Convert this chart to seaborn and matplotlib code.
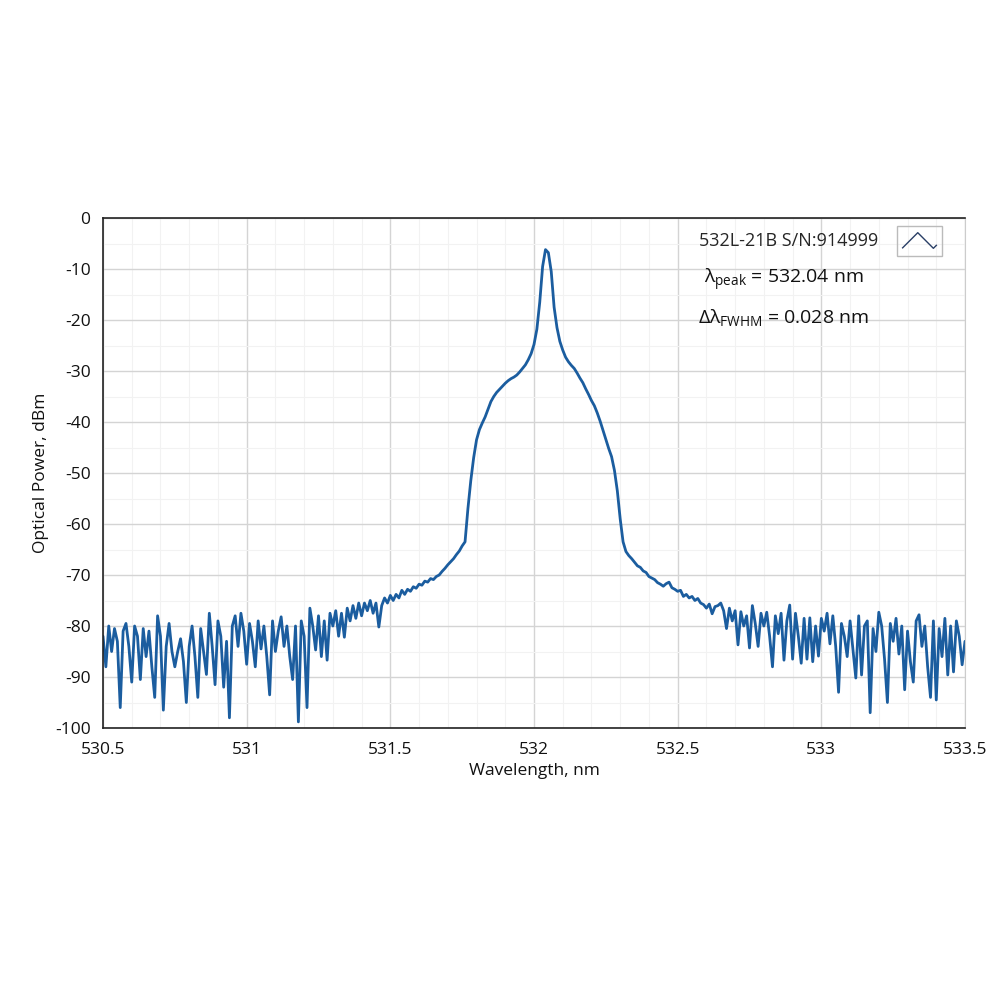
import numpy as np
import pandas as pd
import seaborn as sns
import matplotlib.pyplot as plt
from matplotlib.lines import Line2D
from matplotlib.path import Path
from matplotlib.patches import Rectangle
from matplotlib.ticker import AutoMinorLocator

# spectrum, 0.01 nm step, in three pieces
left_start = 530.50
left_power = [
    -82, -88, -80, -85, -80.5, -83, -96, -81, -79.5, -84,
    -91, -80, -82, -90.5, -80.5, -86, -81, -88, -94, -78,
    -82, -96.5, -84, -79.5, -85, -88, -85, -82.5, -87, -95,
    -84, -80, -86, -94, -80.5, -85, -89.5, -77.5, -84, -91.5,
    -79, -82, -92, -83, -98, -80, -78, -84, -77.5, -81,
    -87.5, -79.5, -83, -88, -79, -84.5, -80, -86, -93.5, -79,
    -85, -81, -78.2, -84, -80, -86, -90.5, -80, -98.8, -79,
    -82, -96, -76.5, -80, -84.7, -78, -86, -79, -86.7, -77.5,
    -80, -77, -82, -77.5, -82.2, -76.5, -79, -76, -78.5, -75.5,
    -78, -75.5, -77, -75, -77.5, -75.5, -80.2, -76, -74.5, -75.5,
    -74, -75, -73.8, -74.5, -73, -73.8, -72.8, -73.2, -72.3, -72.6,
    -71.8, -72, -71.2, -71.4, -70.7, -70.9, -70.3,
]

mid_start = 531.67
mid_power = [
    -70.0, -69.3, -68.7, -68.0, -67.4, -66.8, -66.0, -65.3, -64.3, -63.5,
    -57.0, -51.5, -47.0, -43.5, -41.5, -40.2, -39.0, -37.5, -36.0, -35.0,
    -34.2, -33.6, -33.0, -32.4, -31.9, -31.5, -31.2, -30.8, -30.2, -29.5,
    -28.8, -27.8, -26.6, -24.8, -21.8, -16.5, -9.5, -6.2, -6.8, -10.5,
    -17.5, -21.5, -24.2, -25.9, -27.3, -28.2, -28.9, -29.5, -30.4, -31.4,
    -32.3, -33.5, -34.6, -35.8, -36.8, -38.2, -39.8, -41.6, -43.4, -45.2,
    -46.8, -49.5, -53.5, -59.0, -63.5, -65.4, -66.2, -66.8, -67.5, -68.2,
    -68.5, -69.2, -69.5, -70.3, -70.6, -70.9, -71.5,
]

right_start = 532.44
right_power = [
    -71.8, -72.2, -71.7, -71.4, -72.5, -72.8, -73.2, -73, -74.2, -73.8,
    -74.5, -74.2, -75, -74.6, -75.5, -75.8, -76.5, -75.7, -77.6, -76.2,
    -76, -75.5, -77, -80.5, -76.5, -79, -77, -83.7, -77.2, -80,
    -78, -84.3, -76, -79.5, -84, -77.5, -80, -77.3, -82, -88,
    -78, -81.5, -77.5, -86.7, -79, -75.9, -86.5, -77.5, -82, -87.3,
    -78.5, -86.5, -78.4, -87, -80, -85.9, -78.5, -81, -77.5, -83.5,
    -78, -84, -93, -79.5, -82, -86, -79, -84.5, -90.2, -78,
    -89.6, -80, -79, -97, -80.5, -85, -77.3, -80, -86.5, -95,
    -79.5, -83, -78.5, -85.5, -80, -92.5, -81, -87, -91, -79,
    -77.8, -84, -80, -88, -94, -79, -94.5, -80.5, -86, -78.5,
    -89.6, -80, -89, -79, -82, -87.6, -83,
]

legend_label = "532L-21B S/N:914999"
peak_text = r"$\lambda_{\mathrm{peak}}$ = 532.04 nm"
fwhm_text = r"$\Delta\lambda_{\mathrm{FWHM}}$ = 0.028 nm"
x_ticks = [530.5, 531, 531.5, 532, 532.5, 533, 533.5]
x_ticklabels = ["530.5", "531", "531.5", "532", "532.5", "533", "533.5"]
y_ticks = [0, -10, -20, -30, -40, -50, -60, -70, -80, -90, -100]

pieces = []
for start, vals in [(left_start, left_power), (mid_start, mid_power), (right_start, right_power)]:
    wl = np.round(start + 0.01 * np.arange(len(vals)), 2)
    pieces.append(pd.DataFrame({"wavelength": wl, "power": vals}))
df = pd.concat(pieces, ignore_index=True)

sns.set_style("white")
plt.rcParams['font.family'] = ['Open Sans', 'DejaVu Sans']
plt.rcParams['mathtext.fontset'] = 'custom'
plt.rcParams['mathtext.rm'] = 'Open Sans'
plt.rcParams['mathtext.it'] = 'Open Sans'
plt.rcParams['axes.unicode_minus'] = False

line_color = "#1b5d9f"

fig = plt.figure(figsize=(10, 10), dpi=100)
ax = fig.add_axes([0.103, 0.272, 0.862, 0.510])

sns.lineplot(data=df, x="wavelength", y="power", ax=ax, color=line_color,
             linewidth=2.0, legend=False)

ax.set_xlim(530.5, 533.5)
ax.set_ylim(-100, 0)
ax.set_xticks(x_ticks)
ax.set_xticklabels(x_ticklabels)
ax.set_yticks(y_ticks)
ax.xaxis.set_minor_locator(AutoMinorLocator(5))
ax.yaxis.set_minor_locator(AutoMinorLocator(2))

ax.grid(which="major", color="#d4d4d4", linewidth=1.0)
ax.grid(which="minor", color="#f2f2f2", linewidth=0.8)
ax.set_axisbelow(True)

for side in ["left", "bottom", "top"]:
    ax.spines[side].set_color("#222222")
    ax.spines[side].set_linewidth(1.2)
ax.spines["right"].set_color("#cccccc")

ax.tick_params(which="major", direction="out", length=7, width=1.1,
               color="#222222", labelsize=12.5, labelcolor="#111111")
ax.tick_params(which="minor", length=0)
ax.tick_params(axis="y", pad=2)
ax.tick_params(axis="x", pad=3)

ax.set_xlabel("Wavelength, nm", fontsize=12.5, color="#111111", labelpad=4)
ax.set_ylabel("Optical Power, dBm", fontsize=12.5, color="#111111", labelpad=4)

# legend: label first, chevron icon on the right inside a small box
chevron = Path([(-1.0, -0.45), (-0.1, 0.45), (0.8, -0.45), (1.0, -0.25)],
               [Path.MOVETO, Path.LINETO, Path.LINETO, Path.LINETO])
handle = Line2D([], [], linestyle="none", marker=chevron, markersize=25,
                markerfacecolor="none", markeredgecolor="#2a3f66",
                markeredgewidth=1.0)
ax.legend([handle], [legend_label], loc="upper right", bbox_to_anchor=(0.991, 1.0),
          markerfirst=False, frameon=False, fontsize=13, handlelength=2.6,
          handletextpad=1.0, borderaxespad=0.4)
ax.add_patch(Rectangle((0.921, 0.925), 0.052, 0.059, transform=ax.transAxes,
                       facecolor="none", edgecolor="#bbbbbb", linewidth=1.0))

ax.text(0.697, 0.878, peak_text, transform=ax.transAxes, fontsize=14,
        va="center", ha="left", color="#111111")
ax.text(0.690, 0.804, fwhm_text, transform=ax.transAxes, fontsize=14,
        va="center", ha="left", color="#111111")

fig.savefig("out.png", dpi=100, facecolor="white")
